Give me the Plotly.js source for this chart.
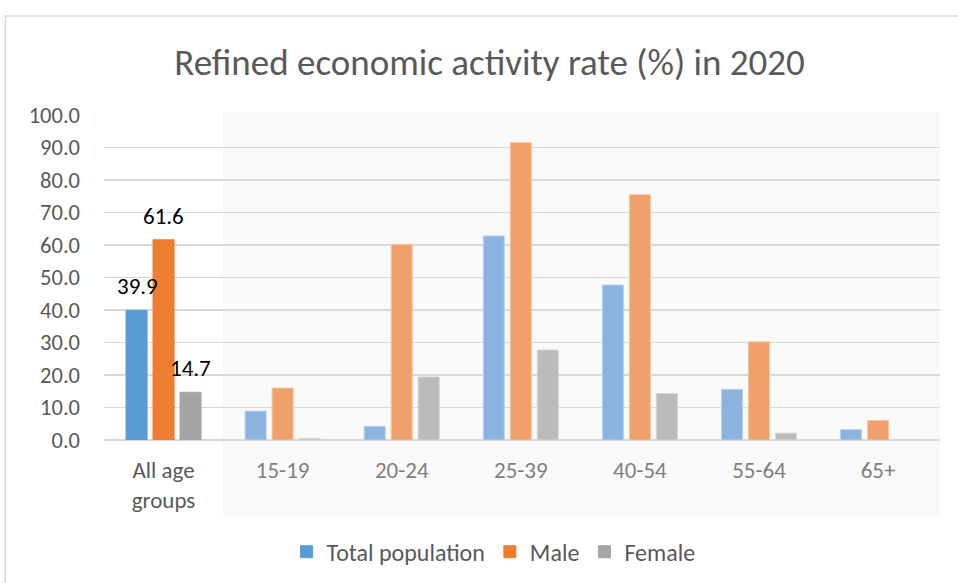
<!DOCTYPE html>
<html>
<head>
<meta charset="utf-8">
<script src="https://cdn.plot.ly/plotly-3.0.1.min.js"></script>
<style>
html,body{margin:0;padding:0;background:#fff;overflow:hidden;}
#chart{width:958px;height:583px;}
</style>
</head>
<body>
<div id="chart"></div>
<script>
const categories = ["All age<br>groups", "15-19", "20-24", "25-39", "40-54", "55-64", "65+"];
const totalPopulation = [39.9, 8.9, 4.2, 62.8, 47.7, 15.6, 3.2];
const male = [61.6, 16.0, 60.2, 91.5, 75.5, 30.2, 6.0];
const female = [14.7, 0.5, 19.4, 27.7, 14.3, 2.1, 0.0];
const seriesNames = ["Total population", "Male", "Female"];

const strongColors = ["#5B9BD5", "#ED7D31", "#A5A5A5"];
const fadedColors = ["#8AB4DF", "#F0A06B", "#BBBBBB"];
const fadedLines = ["#B9D3EE", "#F6C6A4", "#D6D6D6"];
const FONT = "Carlito, Lato, 'Liberation Sans', sans-serif";

const seriesData = [totalPopulation, male, female];
const traces = seriesData.map((vals, s) => ({
  type: "bar",
  name: seriesNames[s],
  x: categories,
  y: vals,
  marker: {
    color: vals.map((v, i) => i === 0 ? strongColors[s] : fadedColors[s]),
    line: {
      color: vals.map((v, i) => i === 0 ? strongColors[s] : fadedLines[s]),
      width: 1
    }
  },
  hoverinfo: "none"
}));

const annotations = seriesData.map((vals, s) => ({
  x: categories[0],
  y: vals[0],
  xref: "x", yref: "y",
  text: vals[0].toFixed(1),
  showarrow: false,
  yanchor: "bottom",
  xshift: (s - 1) * 26.5,
  yshift: 8,
  font: {family: FONT, size: 23, color: "#000000"}
}));

const tickText = categories.map((c, i) =>
  i === 0 ? '<span style="color:#595959">' + c + '</span>'
          : '<span style="color:#7F7F7F">' + c + '</span>');

const layout = {
  width: 958,
  height: 583,
  margin: {l: 104, r: 18, t: 115, b: 143, autoexpand: false},
  paper_bgcolor: "#ffffff",
  plot_bgcolor: "rgba(0,0,0,0)",
  font: {family: FONT, color: "#595959", size: 22},
  title: {
    text: "Refined economic activity rate (%) in 2020",
    font: {family: FONT, size: 37, color: "#595959"},
    x: 0.511, xanchor: "center",
    y: 0.893, yanchor: "middle"
  },
  barmode: "group",
  bargap: 0.32,
  bargroupgap: 0.22,
  xaxis: {
    type: "category",
    tickmode: "array",
    tickvals: categories,
    ticktext: tickText,
    tickfont: {family: FONT, size: 23, color: "#595959"},
    showgrid: false,
    showline: false,
    ticks: "",
    ticklabelstandoff: 14,
    automargin: false,
    fixedrange: true
  },
  yaxis: {
    range: [0, 100],
    dtick: 10,
    tickformat: ".1f",
    tickfont: {family: FONT, size: 22.5, color: "#595959"},
    showgrid: true,
    gridcolor: "#D9D9D9",
    gridwidth: 1.5,
    zeroline: true,
    zerolinecolor: "#D9D9D9",
    zerolinewidth: 1.5,
    showline: false,
    ticks: "",
    ticklabelstandoff: 23,
    automargin: false,
    fixedrange: true
  },
  legend: {
    orientation: "h",
    x: 0.466, xanchor: "center",
    y: -0.345, yanchor: "middle",
    font: {family: FONT, size: 24, color: "#595959"},
    itemwidth: 30,
    traceorder: "normal"
  },
  showlegend: true,
  annotations: annotations,
  shapes: [
    {
      type: "rect", layer: "below",
      xref: "x", yref: "paper",
      x0: 0.5, x1: 6.52, y0: -0.237, y1: 1.009,
      fillcolor: "#FAFAFA", line: {width: 0}
    },
    {
      type: "rect", layer: "below",
      xref: "paper", yref: "paper",
      x0: -0.118, x1: 1.2, y0: -0.6, y1: 1.3046,
      fillcolor: "rgba(0,0,0,0)", line: {color: "#D9D9D9", width: 1.5}
    }
  ]
};

Plotly.newPlot("chart", traces, layout, {staticPlot: true, displayModeBar: false});
</script>
</body>
</html>
